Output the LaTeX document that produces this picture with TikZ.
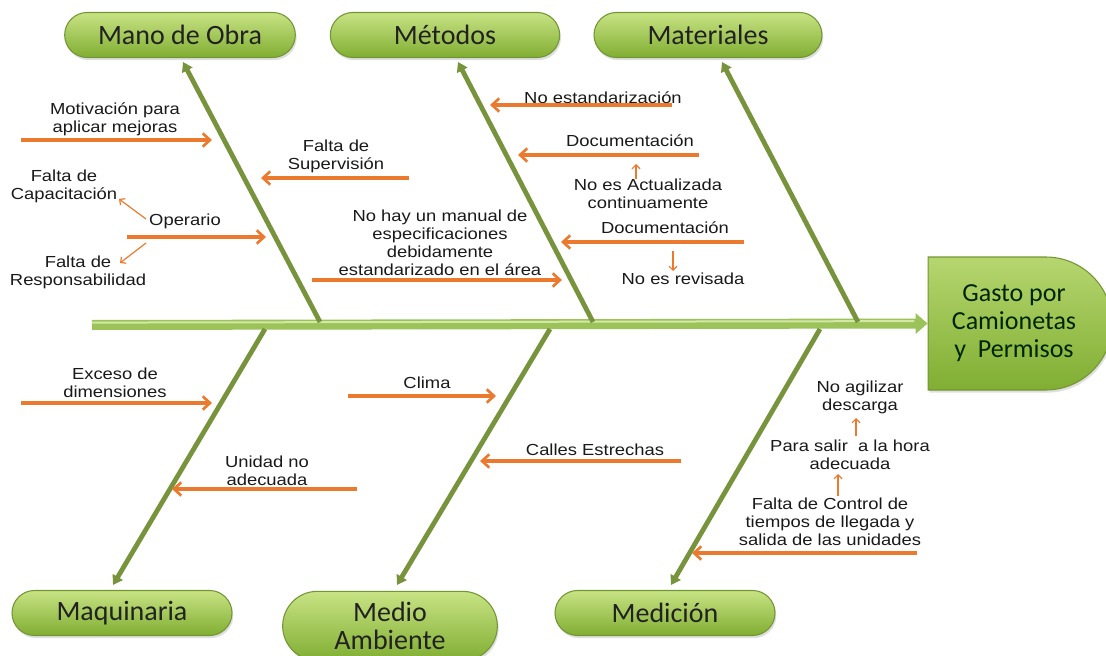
\documentclass[tikz,border=0pt]{standalone}
\usepackage{fontspec}
\usetikzlibrary{arrows.meta,shapes.misc,shadows}
\newfontfamily\labf[FakeStretch=1.15]{Liberation Sans}
\newfontfamily\catf{Carlito}
\definecolor{orng}{HTML}{EC7A2E}
\definecolor{bonec}{HTML}{77933C}
\definecolor{spinec}{HTML}{9CC25A}
\definecolor{spinehi}{HTML}{D2E8A5}
\definecolor{pilltop}{HTML}{C8E384}
\definecolor{pillbot}{HTML}{80AE32}
\definecolor{pillline}{HTML}{739634}
\definecolor{cattext}{HTML}{222222}
\begin{document}
\begin{tikzpicture}[x=0.75pt,y=-0.75pt,
  cat/.style={rounded rectangle, minimum height=33.75pt, inner sep=0pt,
    top color=pilltop, bottom color=pillbot, draw=pillline, line width=0.8pt,
    drop shadow={opacity=0.25, shadow xshift=1pt, shadow yshift=-2pt},
    font=\catf\fontsize{21pt}{21pt}\selectfont, text=cattext, align=center},
  lab/.style={font=\labf\fontsize{12pt}{13.5pt}\selectfont, text=black!90, align=center, inner sep=0pt},
  bone/.style={draw=bonec, line width=3.6pt, -{Triangle[length=7pt,width=8.5pt]}},
  cause/.style={draw=orng, line width=2.3pt, -{Straight Barb[length=5.5pt,width=10pt,line width=2pt]}},
  sub/.style={draw=orng, line width=0.9pt, -{Straight Barb[length=3pt,width=6pt,line width=0.9pt]}}]
\useasboundingbox (0,0) rectangle (1106,656);

% categories
\node[cat, minimum width=173pt] (mano) at (180,35) {Mano de Obra};
\node[cat, minimum width=172pt] (metodos) at (445,35) {Métodos};
\node[cat, minimum width=171pt] (materiales) at (708,35) {Materiales};
\node[cat, minimum width=165pt] (maq) at (122,613) {Maquinaria};
\node[cat, minimum width=161pt, minimum height=52pt] (medio) at (390,626) {Medio\\Ambiente};
\node[cat, minimum width=165pt] (medicion) at (665,613) {Medición};

% effect
\node[rounded rectangle, rounded rectangle west arc=none, minimum width=138pt, minimum height=99.75pt,
  top color=pilltop!75!pillbot, bottom color=pillbot, draw=pillline, line width=0.8pt,
  drop shadow={opacity=0.25, shadow xshift=1pt, shadow yshift=-2pt},
  font=\catf\fontsize{19.5pt}{21pt}\selectfont, text=black!85!green, align=center, inner sep=0pt]
  (effect) at (1014,323.5) {Gasto por\\Camionetas\\y\ \ Permisos};

% spine
\coordinate (spL) at (92,325);
\draw[draw=spinec, line width=7.5pt, -{Triangle[length=9pt,width=15pt]}] (spL) -- (effect.west);
\draw[draw=spinehi, line width=1.5pt] ([yshift=1.8pt]spL) -- ([yshift=1.8pt,xshift=-10pt]effect.west);

% bones
\coordinate (b1) at (320,322); \coordinate (t1) at (183,62);
\coordinate (b2) at (593,322); \coordinate (t2) at (458,62);
\coordinate (b3) at (858,322); \coordinate (t3) at (722,62);
\coordinate (b4) at (265,329); \coordinate (t4) at (113,585);
\coordinate (b5) at (550,329); \coordinate (t5) at (397,585);
\coordinate (b6) at (820,329); \coordinate (t6) at (671,585);
\foreach \i in {1,...,6} \draw[bone] (b\i) -- (t\i);

% labels
\node[lab] (mot) at (115,119.5) {Motivación para\\aplicar mejoras};
\node[lab] (sup) at (336,156) {Falta de\\Supervisión};
\node[lab] (capac) at (64,186) {Falta de\\Capacitación};
\node[lab] (oper) at (185,221) {Operario};
\node[lab] (resp) at (78,272) {Falta de\\Responsabilidad};
\node[lab] (manual) at (440,242.5) {No hay un manual de\\especificaciones\\debidamente\\estandarizado en el área};
\node[lab] (noest) at (603,98) {No estandarización};
\node[lab] (doc1) at (630,141) {Documentación};
\node[lab] (actual) at (648,193.5) {No es Actualizada\\continuamente};
\node[lab] (doc2) at (665,228) {Documentación};
\node[lab] (norev) at (683,279) {No es revisada};
\node[lab] (exceso) at (115,382.5) {Exceso de\\dimensiones};
\node[lab] (clima) at (427,383) {Clima};
\node[lab] (unidad) at (267,470.5) {Unidad no\\adecuada};
\node[lab] (calles) at (595,450) {Calles Estrechas};
\node[lab] (agil) at (860,397) {No agilizar\\descarga};
\node[lab] (salir) at (850,455) {Para salir\ \ a la hora\\adecuada};
\node[lab] (control) at (830,522) {Falta de Control de\\tiempos de llegada y\\salida de las unidades};

% cause arrows
\coordinate (c1s) at (21,140);  \coordinate (c1e) at (212,140);
\coordinate (c2s) at (409,178); \coordinate (c2e) at (261,178);
\coordinate (c3s) at (127,237); \coordinate (c3e) at (266,237);
\coordinate (c4s) at (312,280); \coordinate (c4e) at (562,280);
\coordinate (c5s) at (672,105); \coordinate (c5e) at (490,105);
\coordinate (c6s) at (699,155); \coordinate (c6e) at (518,155);
\coordinate (c7s) at (744,242); \coordinate (c7e) at (561,242);
\coordinate (c8s) at (21,403);  \coordinate (c8e) at (212,403);
\coordinate (c9s) at (348,396); \coordinate (c9e) at (496,396);
\coordinate (c10s) at (357,489); \coordinate (c10e) at (172,489);
\coordinate (c11s) at (681,461); \coordinate (c11e) at (480,461);
\coordinate (c12s) at (917,553); \coordinate (c12e) at (692,553);
\foreach \i in {1,...,12} \draw[cause] (c\i s) -- (c\i e);

% sub-cause arrows
\coordinate (s1s) at (146,219); \coordinate (s1e) at (119,199);
\coordinate (s2s) at (146,243); \coordinate (s2e) at (120,263);
\coordinate (s3s) at (636,179); \coordinate (s3e) at (636,164);
\coordinate (s4s) at (673,251); \coordinate (s4e) at (673,271);
\coordinate (s5s) at (856,436); \coordinate (s5e) at (856,418);
\coordinate (s6s) at (838,496); \coordinate (s6e) at (838,474);
\foreach \i in {1,...,6} \draw[sub] (s\i s) -- (s\i e);
\end{tikzpicture}
\end{document}
